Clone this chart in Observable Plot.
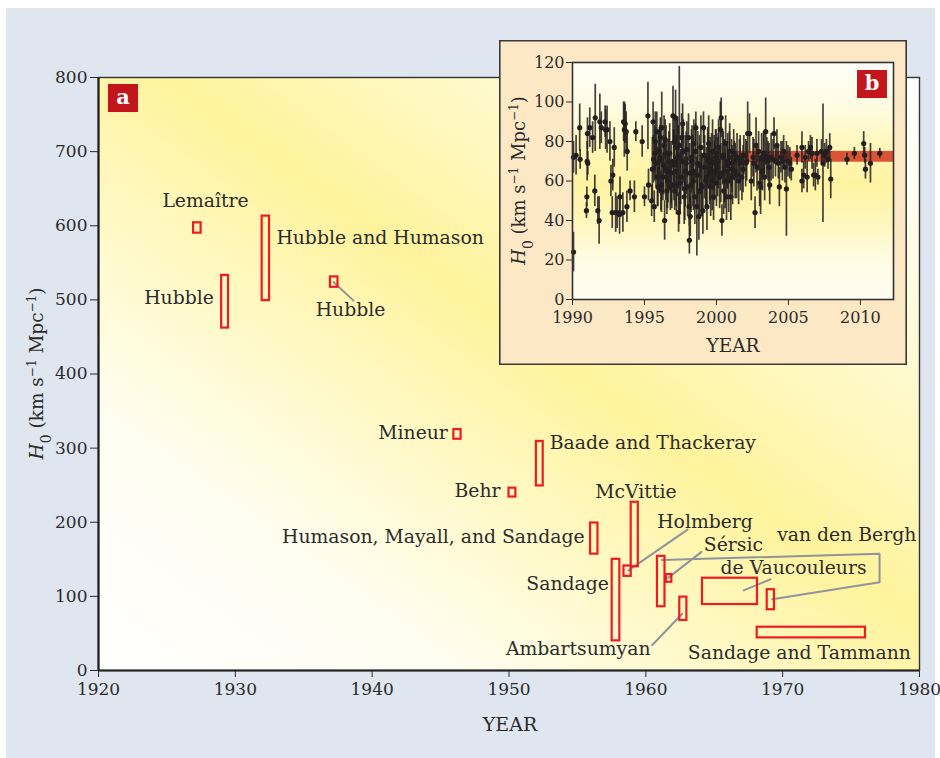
<!DOCTYPE html>
<html><head><meta charset="utf-8">
<script src="https://cdn.jsdelivr.net/npm/d3@7"></script>
<script src="https://cdn.jsdelivr.net/npm/@observablehq/plot@0.6"></script>
<style>
body{margin:0;background:#fff;width:940px;height:758px;position:relative;overflow:hidden;font-family:"DejaVu Serif",serif;}
#bg{position:absolute;left:6px;top:8px;width:929px;height:750px;background:#dfe6ef;}
#main{position:absolute;left:0;top:0;}
#inset{position:absolute;left:499px;top:40px;width:408px;height:325px;background:#fde8c6;box-shadow:inset 0 0 0 1.6px #3a3a3a;}
#inset svg{position:absolute;left:0;top:0;}
.badge{position:absolute;background:#c3161c;color:#fff;font-weight:bold;font-family:"DejaVu Serif",serif;font-size:21px;text-align:center;width:30px;height:28px;line-height:25px;}
</style></head>
<body>
<div id="bg"></div><div id="main"></div><div id="inset"></div>
<div class="badge" style="left:108px;top:84px;">a</div>
<div class="badge" style="left:857px;top:70px;">b</div>
<script>
// ---------- Panel a: historical H0 estimates (boxes) ----------
const boxName  = ["Lemaître","Hubble","Hubble and Humason","Hubble 1936","Mineur","Behr","Baade and Thackeray","Humason, Mayall, and Sandage","Sandage","Holmberg","McVittie","van den Bergh 1961","Sérsic","Ambartsumyan","de Vaucouleurs","van den Bergh 1969","Sandage and Tammann"];
const boxYear1 = [1926.95,1929.0,1931.96,1936.95,1945.97,1950.0,1952.0,1955.96,1957.54,1958.4,1958.93,1960.85,1961.5,1962.48,1964.14,1968.87,1968.14];
const boxYear2 = [1927.5,1929.5,1932.5,1937.5,1946.5,1950.5,1952.5,1956.5,1958.1,1958.93,1959.45,1961.4,1961.9,1963.0,1968.16,1969.4,1976.05];
const boxLow   = [590,462,499,517,312,234,249,157,40,127,140,86,119,67.5,89,82,44];
const boxHigh  = [604,533,613,531,325,246,309,199,150,141,227,154,129.5,99,124.5,109,58.4];

// labels (text, anchor point in data units)
const labelText   = ["Lemaître","Hubble","Hubble and Humason","Hubble","Mineur","Baade and Thackeray","Behr","McVittie","Humason, Mayall, and Sandage","Sandage","Ambartsumyan","Holmberg","Sérsic","van den Bergh","de Vaucouleurs","Sandage and Tammann"];
const labelYear   = [1927.82,1928.43,1933.0,1938.42,1945.53,1952.98,1949.38,1959.28,1955.52,1957.3,1960.34,1960.83,1964.24,1969.6,1965.46,1963.07];
const labelH0     = [634,503,583,486,320,307,242,241,179.5,117,29,201,169,183,138,24];
const labelAnchor = ["middle","end","start","middle","end","start","end","middle","end","end","end","start","start","start","start","start"];

// leader lines
const leaderId   = ["hub","hub","hol","hol","ser","ser","vdb","vdb","vdb","vdb","dev","dev","amb","amb"];
const leaderYear = [1937.17,1938.64,1958.73,1963.05,1961.63,1964.07,1961.17,1977.08,1977.08,1969.24,1967.16,1969.11,1960.46,1962.66];
const leaderH0   = [524,499,135,190,125,160,149,157.5,119,96,108,123,34,76.5];

// ---------- Panel b: H0 measurements 1990-2012 ----------
const insetYear = [1990.07,1990.07,1990.25,1990.5,1990.53,1990.97,1991.0,1991.02,1991.06,1991.04,1991.2,1991.4,1991.55,1991.58,1991.76,1991.85,1991.9,1992.0,1992.27,1992.3,1992.4,1992.6,1992.67,1992.76,1992.8,1992.9,1993.0,1993.1,1993.27,1993.3,1993.5,1993.55,1993.6,1993.66,1993.73,1993.78,1993.8,1994.0,1994.3,1994.4,1994.84,1995.0,
1995.24,1995.28,1995.5,1995.6,1995.63,1995.68,1995.75,1995.8,1995.86,1995.93,1996.0,1996.03,1996.1,1996.14,1996.2,1996.28,1996.33,1996.4,1996.44,1996.5,1996.56,1996.63,1996.7,1996.8,1996.9,1996.98,1997.02,1997.07,1997.1,1997.16,1997.2,1997.25,1997.3,1997.37,1997.42,1997.48,1997.58,1997.65,1997.7,1997.76,1997.83,1997.9,1998.0,1998.06,1998.1,1998.12,1998.18,1998.23,1998.3,1998.37,1998.43,1998.5,1998.57,1998.64,1998.7,1998.78,1998.85,1998.92,1999.0,1999.06,1999.1,1999.18,1999.25,1999.34,1999.39,1999.46,1999.52,1999.6,1999.66,1999.73,1999.8,1999.87,1999.94,2000.0,
2000.08,2000.15,2000.22,2000.27,2000.33,2000.38,2000.43,2000.5,2000.57,2000.64,2000.7,2000.78,2000.85,2000.92,2001.0,2001.05,2001.12,2001.2,2001.3,2001.43,2001.54,2001.65,2001.77,2001.9,2002.03,2002.17,2002.3,2002.42,2002.54,2002.68,2002.75,2002.82,2002.93,2003.0,2003.07,2003.14,2003.2,2003.27,2003.35,2003.42,2003.5,2003.58,2003.7,2003.8,2003.93,2004.0,2004.1,2004.2,2004.3,2004.37,2004.48,2004.58,2004.67,2004.76,2004.86,2004.97,2005.1,2005.2,2005.6,2005.94,2005.94,2006.06,2006.17,2006.3,2006.4,2006.53,2006.64,2006.75,2006.87,2006.98,2007.05,2007.3,2007.4,2007.52,2007.64,2007.75,2007.87,2007.94,2009.07,2009.58,2010.23,2010.3,2010.35,2010.7,2011.35,
1995.55,1995.72,1995.9,1996.07,1996.18,1996.36,1996.47,1996.6,1996.75,1996.85,1997.05,1997.22,1997.34,1997.52,1997.62,1997.8,1997.95,1998.15,1998.27,1998.4,1998.54,1998.67,1998.82,1998.96,1999.13,1999.3,1999.43,1999.56,1999.7,1999.84,1999.97,2000.12,2000.3,2000.47,2000.6,2000.75,2000.9,2001.08,2001.25,2001.4,2001.6,2001.85,2002.1,2002.6,2003.3,2003.65];
const insetH0 = [24,72,73,87,71,45,52,70,69,84,87,82,55,92,45,40,90,87,90,86,86,80,60,44,63,77,44,44,43,52,44,90,86,89,85,47,75,55,52,85,80,52,
93,58,50,90,71,47,80,69,85,57,70,75,82,55,87,62,68,40,81,74,55,65,70,57,58,93,70,80,55,92,65,77,72,44,78,59,82,89,75,52,65,69,57,82,47,30,42,58,72,65,79,52,87,47,69,42,55,77,57,45,87,67,60,47,72,79,64,57,70,75,52,65,72,59,
67,77,62,86,92,40,72,55,65,79,52,70,60,75,52,69,62,74,65,72,60,69,62,73,69,84,84,60,72,44,78,67,75,59,57,72,65,73,62,85,72,70,58,72,71,84,70,78,69,57,72,70,75,67,56,70,69,66,73,77,60,63,72,62,75,77,74,63,63,74,62,75,69,73,75,71,77,61,71,74,79,73,66,69,74,
66,74,62,72,58,78,66,60,74,64,68,58,72,62,70,56,76,64,70,60,75,63,68,58,73,62,70,66,60,69,74,70,64,73,60,68,72,66,70,63,71,66,70,69,74,67];
const insetErr = [10,8,10,12,5,4,5,10,6,8,10,8,8,17,7,12,14,8,8,10,12,10,8,8,8,10,10,8,10,10,10,10,14,10,10,8,10,5,8,5,8,5,
17,8,8,10,12,8,15,12,10,10,15,12,10,10,18,12,15,10,10,14,12,16,15,12,12,15,16,12,10,14,18,14,20,10,40,15,12,10,16,14,18,16,15,12,10,7,10,14,16,18,12,14,8,25,16,12,14,16,15,12,8,16,14,12,15,14,16,15,14,16,12,15,14,12,
15,14,16,14,10,8,14,12,16,14,12,14,16,14,12,12,14,12,14,12,12,14,12,10,12,16,10,10,10,8,14,12,10,12,14,12,10,12,12,17,10,10,10,12,10,8,8,8,8,10,8,10,8,8,24,8,8,6,5,8,6,7,6,8,5,6,8,6,8,7,4,6,30,6,6,5,7,10,3,3,6,4,5,10,2.5,
16,14,15,16,14,15,16,14,15,16,18,15,16,14,15,16,14,15,16,15,14,16,15,16,14,15,14,16,15,14,12,14,15,12,14,12,13,12,10,12,10,12,10,12,10,12];
const bandYears = [2001.5, 2012.3];
const bandH0 = [69.5, 75];

const boxes = boxName.map((n,i)=>({name:n,x1:boxYear1[i],x2:boxYear2[i],y1:boxLow[i],y2:boxHigh[i]}));
const labels = labelText.map((t,i)=>({text:t,x:labelYear[i],y:labelH0[i],anchor:labelAnchor[i]}));
const leaders = leaderId.map((id,i)=>({id,x:leaderYear[i],y:leaderH0[i]}));
const meas = insetYear.map((x,i)=>({x,y:insetH0[i],e:insetErr[i]}));

function gradientBg(id, coords, stops){
  return (index, scales, values, dims) => {
    const g = d3.create("svg:g");
    const lg = g.append("defs").append("linearGradient").attr("id",id)
      .attr("x1",coords[0]).attr("y1",coords[1]).attr("x2",coords[2]).attr("y2",coords[3]);
    stops.forEach(([o,c])=>lg.append("stop").attr("offset",o).attr("stop-color",c));
    g.append("rect").attr("x",dims.marginLeft).attr("y",dims.marginTop)
      .attr("width",dims.width-dims.marginLeft-dims.marginRight)
      .attr("height",dims.height-dims.marginTop-dims.marginBottom)
      .attr("fill",`url(#${id})`);
    return g.node();
  };
}

const textColor = "#2b2b2b";
const labelFont = 18.8;

const main = Plot.plot({
  width:940, height:758, marginLeft:98, marginRight:21, marginTop:77, marginBottom:88,
  style:{fontFamily:"DejaVu Serif, serif", fontSize:"17px", color:textColor, background:"transparent", overflow:"visible"},
  x:{domain:[1920,1980], ticks:d3.range(1920,1981,10), tickFormat:d=>String(d), tickSize:7, tickPadding:5, label:null},
  y:{domain:[0,800], ticks:d3.range(0,801,100), tickSize:8, tickPadding:3, label:null},
  marks:[
    gradientBg("gradA",[0,1,1,0],[[0,"#ffffff"],[0.22,"#fffdf0"],[0.38,"#fff9c8"],[0.54,"#fff39c"],[0.68,"#fff8c0"],[0.85,"#fffde8"],[1,"#ffffff"]]),
    Plot.frame({stroke:"#333",strokeWidth:1.4}),
    Plot.ruleX([1920],{stroke:"#222",strokeWidth:2.2}),
    Plot.ruleY([0],{stroke:"#222",strokeWidth:2.2}),
    Plot.line(leaders,{x:"x",y:"y",z:"id",stroke:"#8e959c",strokeWidth:2}),
    Plot.rect(boxes,{x1:"x1",x2:"x2",y1:"y1",y2:"y2",fill:"none",stroke:"#ec1c24",strokeWidth:2.2}),
    ...["start","middle","end"].map(a=>Plot.text(labels.filter(d=>d.anchor===a),{x:"x",y:"y",text:"text",textAnchor:a,fontSize:labelFont,fill:textColor}))
  ]
});
document.getElementById("main").appendChild(main);
const ms = d3.select(main);
ms.append("text").attr("transform","translate(37,373.5) rotate(-90)").attr("text-anchor","middle")
  .attr("dy","0.35em").attr("font-size",18.5).attr("fill",textColor)
  .html('<tspan font-style="italic">H</tspan><tspan baseline-shift="sub" font-size="14">0</tspan><tspan> (km s</tspan><tspan baseline-shift="super" font-size="12">−1</tspan><tspan> Mpc</tspan><tspan baseline-shift="super" font-size="12">−1</tspan><tspan>)</tspan>');
ms.append("text").attr("x",510).attr("y",724).attr("text-anchor","middle").attr("dy","0.35em")
  .attr("font-size",19).attr("fill",textColor).text("YEAR");

const inset = Plot.plot({
  width:408, height:325, marginLeft:73, marginRight:14, marginTop:22, marginBottom:66,
  style:{fontFamily:"DejaVu Serif, serif", fontSize:"16px", color:textColor, background:"transparent", overflow:"visible"},
  x:{domain:[1990,2012.3], ticks:[1990,1995,2000,2005,2010], tickFormat:d=>String(d), tickSize:6, tickPadding:6, label:null},
  y:{domain:[0,120], ticks:d3.range(0,121,20), tickSize:6, tickPadding:2, label:null},
  marks:[
    gradientBg("gradB",[0,0,0,1],[[0,"#fffffa"],[0.2,"#fffbe0"],[0.38,"#fff6b4"],[0.52,"#fff3a2"],[0.66,"#fff6ba"],[0.85,"#fffce6"],[1,"#fffdf0"]]),
    Plot.rect([0],{x1:bandYears[0],x2:bandYears[1],y1:bandH0[0],y2:bandH0[1],fill:"#d6442c",fillOpacity:0.92}),
    Plot.ruleX(meas,{x:"x",y1:d=>d.y-d.e,y2:d=>d.y+d.e,stroke:"#231f20",strokeWidth:1.7,strokeOpacity:0.85}),
    Plot.dot(meas,{x:"x",y:"y",r:2.6,fill:"#231f20"}),
    Plot.frame({stroke:"#333",strokeWidth:1.6})
  ]
});
document.getElementById("inset").appendChild(inset);
const is = d3.select(inset);
is.append("text").attr("transform","translate(20,140.5) rotate(-90)").attr("text-anchor","middle")
  .attr("dy","0.35em").attr("font-size",18).attr("fill",textColor)
  .html('<tspan font-style="italic">H</tspan><tspan baseline-shift="sub" font-size="14">0</tspan><tspan> (km s</tspan><tspan baseline-shift="super" font-size="12">−1</tspan><tspan> Mpc</tspan><tspan baseline-shift="super" font-size="12">−1</tspan><tspan>)</tspan>');
is.append("text").attr("x",234).attr("y",306).attr("text-anchor","middle").attr("dy","0.35em")
  .attr("font-size",18.5).attr("fill",textColor).text("YEAR");
</script>
</body></html>
